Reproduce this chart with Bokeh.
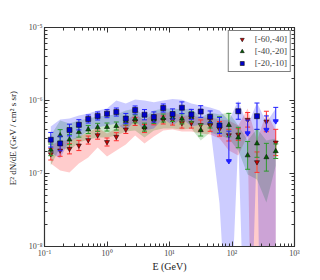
import numpy as np
from bokeh.plotting import figure
from bokeh.models import LogAxis, FixedTicker, Legend, LegendItem
from bokeh.embed import file_html
from bokeh.resources import INLINE

# ---------------- data ----------------
energy = [0.126, 0.178, 0.251, 0.355, 0.501, 0.708, 1.0, 1.41, 2.0, 2.82, 3.98, 5.62,
          7.94, 11.2, 15.8, 22.4, 31.6, 44.7, 63.1, 89.1, 126, 178, 251, 355, 501]

series_labels = ["[-60,-40]", "[-40,-20]", "[-20,-10]"]

red_flux = [1.84e-7, 2.07e-7, 2.18e-7, 2.42e-7, 2.87e-7, 3.35e-7, 2.70e-7, 3.19e-7, 4.01e-7,
            5.16e-7, 4.13e-7, 5.27e-7, 5.41e-7, 5.41e-7, 4.92e-7, 4.92e-7, 4.61e-7, 4.55e-7,
            4.09e-7, 3.35e-7, 3.42e-7, 5.44e-7, 1.43e-7, 5.16e-7, 2.66e-7]
green_flux = [2.11e-7, 3.32e-7, 2.92e-7, 3.70e-7, 4.01e-7, 4.29e-7, 4.33e-7, 4.47e-7, 5.24e-7,
              5.61e-7, 4.31e-7, 5.49e-7, 5.75e-7, 5.85e-7, 5.61e-7, 5.94e-7, 3.92e-7, 5.05e-7,
              4.65e-7, 4.61e-7, 3.11e-7, 1.77e-7, 2.58e-7, 1.67e-7, 2.02e-7]
blue_flux = [2.90e-7, 2.58e-7, 3.94e-7, 4.65e-7, 5.58e-7, 6.14e-7, 6.60e-7, 6.95e-7, 5.66e-7,
             7.41e-7, 6.39e-7, 5.94e-7, 7.89e-7, 6.53e-7, 7.96e-7, 6.43e-7, 7.06e-7, 5.98e-7,
             4.55e-7, 1.48e-7, 7.13e-7, 3.56e-7, 6.10e-7, 3.97e-7, 5.20e-7]
blue_is_limit = [False] * 19 + [True, False, True, False, True, True]

# statistical errors (dex)
red_err = [0.08, 0.08, 0.07, 0.07, 0.055, 0.055, 0.055, 0.055, 0.055, 0.055, 0.055, 0.055,
           0.055, 0.07, 0.07, 0.07, 0.07, 0.08, 0.10, 0.08, 0.08, 0.10, 0.14, 0.14, 0.18]
green_err = [0.08, 0.08, 0.07, 0.07, 0.055, 0.055, 0.055, 0.055, 0.055, 0.055, 0.055, 0.055,
             0.055, 0.055, 0.07, 0.07, 0.08, 0.08, 0.11, 0.16, 0.14, 0.19, 0.19, 0.19, 0.10]
blue_err_up = [0.10, 0.10, 0.08, 0.07, 0.055, 0.055, 0.055, 0.055, 0.07, 0.055, 0.07, 0.07,
               0.055, 0.07, 0.08, 0.07, 0.08, 0.08, 0.11, 0.41, 0.11, 0.18, 0.18, 0.19, 0.19]
blue_err_dn = [0.10, 0.10, 0.08, 0.07, 0.055, 0.055, 0.055, 0.055, 0.07, 0.055, 0.07, 0.07,
               0.055, 0.07, 0.08, 0.07, 0.08, 0.08, 0.11, 0.0, 0.11, 0.0, 0.18, 0.0, 0.0]

# systematic bands
red_band_hi = [2.42e-7, 2.83e-7, 2.83e-7, 3.21e-7, 3.65e-7, 4.27e-7, 3.53e-7, 4.13e-7, 5.15e-7,
               6.64e-7, 5.32e-7, 6.64e-7, 6.85e-7, 6.85e-7, 6.23e-7, 6.23e-7, 5.85e-7, 5.85e-7,
               5.49e-7, 5.32e-7, 4.54e-7, 7.77e-7, 2.83e-7, 6.85e-7, 3.88e-7]
red_band_lo = [1.37e-7, 1.10e-7, 1.03e-7, 1.37e-7, 1.66e-7, 2.27e-7, 1.71e-7, 2.07e-7, 2.50e-7,
               3.32e-7, 2.58e-7, 3.21e-7, 3.88e-7, 4.01e-7, 3.76e-7, 3.76e-7, 3.53e-7, 3.42e-7,
               3.02e-7, 2.07e-7, 1.77e-7, 3.32e-7, 1e-14, 1e-14, 1e-14]
green_band_hi = [3.32e-7, 5.32e-7, 4.84e-7, 5.32e-7, 5.67e-7, 6.04e-7, 6.23e-7, 6.43e-7, 7.30e-7,
                 7.77e-7, 6.04e-7, 7.30e-7, 7.77e-7, 7.77e-7, 7.53e-7, 7.77e-7, 5.85e-7, 6.85e-7,
                 6.43e-7, 6.85e-7, 4.54e-7, 2.83e-7, 4.13e-7, 2.83e-7, 3.02e-7]
green_band_lo = [1.29e-7, 2.27e-7, 2.07e-7, 2.66e-7, 2.92e-7, 3.11e-7, 3.11e-7, 3.32e-7, 3.76e-7,
                 3.88e-7, 3.11e-7, 3.88e-7, 4.13e-7, 4.13e-7, 4.01e-7, 4.13e-7, 2.83e-7, 3.65e-7,
                 3.32e-7, 3.02e-7, 2.07e-7, 9.69e-8, 8.28e-8, 4.01e-8, 1.29e-7]
blue_band_hi = [4.40e-7, 5.49e-7, 5.67e-7, 6.23e-7, 6.64e-7, 7.30e-7, 7.77e-7, 1.0e-6, 9.10e-7,
                1.03e-6, 1.0e-6, 9.5e-7, 1.0e-6, 1.05e-6, 1.02e-6, 9.10e-7, 8.54e-7, 8.02e-7,
                7.30e-7, 5.32e-7, 1.0e-6, 4.54e-7, 9.4e-7, 5.0e-7, 7.77e-7]
blue_band_lo = [1.94e-7, 1.60e-7, 2.83e-7, 3.11e-7, 3.88e-7, 4.27e-7, 4.54e-7, 4.84e-7, 3.88e-7,
                5.32e-7, 3.88e-7, 4.13e-7, 5.67e-7, 4.54e-7, 5.67e-7, 4.40e-7, 4.69e-7, 4.54e-7,
                3.88e-8, 2.58e-10, 2.83e-7, 1.88e-11, 2.83e-7, 1e-14, 1e-14]

x_ticks = [0.1, 1, 10, 100, 1000]
x_tick_labels = ["10⁻¹", "10⁰", "10¹", "10²", "10³"]
y_ticks = [1e-8, 1e-7, 1e-6, 1e-5]
y_tick_labels = ["10⁻⁸", "10⁻⁷", "10⁻⁶", "10⁻⁵"]

# ---------------- figure ----------------
SERIF = "Liberation Serif"

p = figure(width=312, height=274,
           x_axis_type="log", y_axis_type="log",
           x_range=(0.1, 1000), y_range=(1e-8, 1e-5),
           output_backend="svg", toolbar_location=None,
           min_border_left=44, min_border_right=18, min_border_top=27, min_border_bottom=26)
p.grid.visible = False
p.outline_line_color = "#333333"
p.outline_line_width = 1.2
p.background_fill_color = "white"
p.border_fill_color = "white"

def minor_list(ticks):
    out = []
    for t in ticks[:-1]:
        out += [t * k for k in range(2, 10)]
    return out

x_ticker = FixedTicker(ticks=x_ticks, minor_ticks=minor_list(x_ticks))
y_ticker = FixedTicker(ticks=y_ticks, minor_ticks=minor_list(y_ticks))

def style_axis(ax):
    ax.major_tick_in = 5
    ax.major_tick_out = 0
    ax.minor_tick_in = 3
    ax.minor_tick_out = 0
    ax.axis_line_color = "#333333"
    ax.major_tick_line_color = "#333333"
    ax.minor_tick_line_color = "#333333"
    ax.major_label_text_font = SERIF
    ax.major_label_text_font_size = "8px"
    ax.major_label_text_color = "#444444"
    ax.major_label_standoff = 2
    ax.axis_label_text_font = SERIF
    ax.axis_label_text_font_style = "normal"
    ax.axis_label_text_color = "#222222"

xa = p.xaxis[0]
xa.ticker = x_ticker
xa.major_label_overrides = dict(zip(x_ticks, x_tick_labels))
style_axis(xa)
xa.axis_label = "E (GeV)"
xa.axis_label_text_font_size = "10px"
xa.axis_label_standoff = 0

ya = p.yaxis[0]
ya.ticker = y_ticker
ya.major_label_overrides = dict(zip(y_ticks, y_tick_labels))
style_axis(ya)
ya.axis_label = "E² dN/dE  (GeV / cm² s sr)"
ya.axis_label_text_font_size = "9px"
ya.axis_label_standoff = 8

top = LogAxis(ticker=x_ticker)
style_axis(top)
top.major_label_text_alpha = 0
top.major_label_text_font_size = "5px"
top.major_label_standoff = 0
p.add_layout(top, "above")
right = LogAxis(ticker=y_ticker)
style_axis(right)
right.major_label_text_alpha = 0
right.major_label_text_font_size = "5px"
right.major_label_standoff = 0
p.add_layout(right, "right")

# ---------------- bands ----------------
x = np.array(energy)
p.varea(x=x, y1=red_band_lo, y2=red_band_hi, fill_color="red", fill_alpha=0.2)
p.varea(x=x, y1=green_band_lo, y2=green_band_hi, fill_color="green", fill_alpha=0.2)
p.varea(x=x, y1=blue_band_lo, y2=blue_band_hi, fill_color="blue", fill_alpha=0.2)

# ---------------- points with error bars ----------------
def draw_series(flux, err_up, err_dn, bar_color, fill, marker, size, is_limit=None):
    f = np.array(flux)
    hi = f * 10 ** np.array(err_up)
    lo = f / 10 ** np.array(err_dn)
    p.segment(x0=x, y0=lo, x1=x, y1=hi, line_color=bar_color, line_width=1)
    p.scatter(x=np.concatenate([x, x]), y=np.concatenate([lo, hi]), marker="dash",
              size=5, line_color=bar_color, line_width=1)
    if is_limit is None:
        mask = np.zeros(len(x), dtype=bool)
    else:
        mask = np.array(is_limit)
    r = p.scatter(x=x[~mask], y=f[~mask], marker=marker, size=size,
                  fill_color=fill, line_color="#111111", line_width=0.6)
    if mask.any():
        p.scatter(x=x[mask], y=f[mask], marker="inverted_triangle", size=5,
                  fill_color=bar_color, line_color=bar_color)
    return r

r_red = draw_series(red_flux, red_err, red_err, "#ff3030", "#cc0000", "inverted_triangle", 5)
r_green = draw_series(green_flux, green_err, green_err, "#2e9a2e", "#006000", "triangle", 5)
r_blue = draw_series(blue_flux, blue_err_up, blue_err_dn, "#2020ff", "#0000cc", "square", 5,
                     blue_is_limit)

legend = Legend(items=[LegendItem(label=series_labels[0], renderers=[r_red]),
                       LegendItem(label=series_labels[1], renderers=[r_green]),
                       LegendItem(label=series_labels[2], renderers=[r_blue])],
                location="top_right")
legend.border_line_color = "black"
legend.border_line_width = 1
legend.background_fill_alpha = 1
legend.label_text_font = SERIF
legend.label_text_font_size = "9px"
legend.glyph_width = 20
legend.glyph_height = 10
legend.label_height = 10
legend.spacing = 2
legend.padding = 3
legend.margin = 3
legend.label_standoff = 3
p.add_layout(legend)

open("out.html", "w").write(file_html(p, INLINE))
